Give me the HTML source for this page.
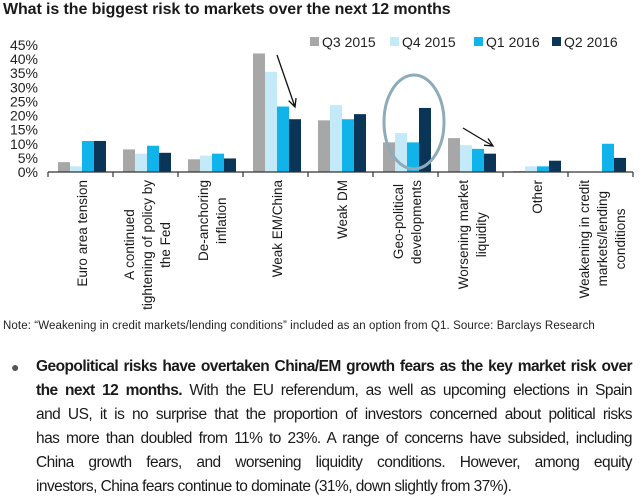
<!DOCTYPE html>
<html><head><meta charset="utf-8"><style>
body{margin:0;width:640px;height:496px;background:#fff;font-family:"Liberation Sans",sans-serif;position:relative;overflow:hidden;color:#1a1a1a}
.title{position:absolute;left:3px;top:1px;font-weight:bold;font-size:16px;letter-spacing:-0.1px}
.lbl{position:absolute;top:180px;writing-mode:vertical-rl;transform:rotate(180deg);text-align:center;font-size:13.5px;line-height:18px;white-space:nowrap}
.note{position:absolute;left:3px;top:320px;font-size:11.5px;color:#222;letter-spacing:0.1px}
.para{position:absolute;left:36px;top:355px;width:596px;font-size:15.5px;line-height:24px;letter-spacing:-0.55px}
.para div{white-space:nowrap;text-align:justify;text-align-last:justify}
.para div.last{text-align-last:left}
.bullet{position:absolute;left:11px;top:359px;font-size:14px;color:#555}
</style></head><body>
<div class="title">What is the biggest risk to markets over the next 12 months</div>
<svg id="chart" width="640" height="180" style="position:absolute;left:0;top:0"></svg>
<div id="labels"></div>
<div class="note">Note: “Weakening in credit markets/lending conditions” included as an option from Q1. Source: Barclays Research</div>
<div class="bullet">●</div>
<div class="para">
<div><b>Geopolitical risks have overtaken China/EM growth fears as the key market risk over</b></div>
<div><b>the next 12 months.</b> With the EU referendum, as well as upcoming elections in Spain</div>
<div>and US, it is no surprise that the proportion of investors concerned about political risks</div>
<div>has more than doubled from 11% to 23%. A range of concerns have subsided, including</div>
<div>China growth fears, and worsening liquidity conditions. However, among equity</div>
<div class="last">investors, China fears continue to dominate (31%, down slightly from 37%).</div>
</div>
<script>
const categories=["Euro area tension","A continued<br>tightening of policy by<br>the Fed","De-anchoring<br>inflation","Weak EM/China","Weak DM","Geo-political<br>developments","Worsening market<br>liquidity","Other","Weakening in credit<br>markets/lending<br>conditions"];
const seriesNames=["Q3 2015","Q4 2015","Q1 2016","Q2 2016"];
const q3_2015=[3.5,8,4.5,42,18.3,10.5,12,0.3,0];
const q4_2015=[2,6.5,5.8,35.5,23.7,13.8,9.5,2,0];
const q1_2016=[11,9.3,6.5,23.2,18.7,10.5,8.2,2,10];
const q2_2016=[11,6.8,4.8,18.7,20.5,22.7,6.5,4,5];
const yTicks=[0,5,10,15,20,25,30,35,40,45];
const colors=["#a7a7a7","#c4e9f8","#11b4ea","#0b3556"];
const series=[q3_2015,q4_2015,q1_2016,q2_2016];
const NS="http://www.w3.org/2000/svg";
const svg=document.getElementById('chart');
const x0=48,step=65,y0=172,yTop=45,ymax=45;
const y=v=>y0-(v/ymax)*(y0-yTop);
const gx=i=>x0+i*step;
function mk(t,a){const e=document.createElementNS(NS,t);for(const k in a)e.setAttribute(k,a[k]);svg.appendChild(e);return e;}
yTicks.forEach(t=>{const e=mk('text',{x:38,y:y(t)+5,'text-anchor':'end','font-size':'14','fill':'#222'});e.textContent=t+'%';

});
series.forEach((s,si)=>s.forEach((v,i)=>{const r=mk('rect',{x:gx(i)+10+si*12,y:y(v),width:12,height:y0-y(v),fill:colors[si]});

}));
const ax=mk('line',{x1:x0,y1:y0,x2:x0+categories.length*step,y2:y0,stroke:'#333','stroke-width':1.2});


for(let i=0;i<=categories.length;i++){const t=mk('line',{x1:gx(i),y1:y0,x2:gx(i),y2:y0+5,stroke:'#333','stroke-width':1.2});

}
const lx=[310,390,474,552];
seriesNames.forEach((n,i)=>{const r=mk('rect',{x:lx[i],y:37,width:9,height:9,fill:colors[i]});


const t=mk('text',{x:lx[i]+12,y:47,'font-size':'14','fill':'#222'});t.textContent=n;

});
const el=mk('ellipse',{cx:414,cy:122,rx:30,ry:47,fill:'none',stroke:'#8eabb9','stroke-width':3});


function arrow(x1,y1,x2,y2,name){const a=Math.atan2(y2-y1,x2-x1),L=9;
const p=`M${x1},${y1}L${x2},${y2}M${x2-L*Math.cos(a-0.45)},${y2-L*Math.sin(a-0.45)}L${x2},${y2}L${x2-L*Math.cos(a+0.45)},${y2-L*Math.sin(a+0.45)}`;
const e=mk('path',{d:p,stroke:'#111','stroke-width':1.3,fill:'none'});

}
arrow(277,55,295,107,'arrow-china');
arrow(463,128,493,146,'arrow-liquidity');
const lab=document.getElementById('labels');
categories.forEach((c,i)=>{const d=document.createElement('div');d.className='lbl';d.innerHTML=c;


lab.appendChild(d);const w=d.offsetWidth;d.style.left=(gx(i)+step/2-w/2+2)+'px';});
</script>
</body></html>
